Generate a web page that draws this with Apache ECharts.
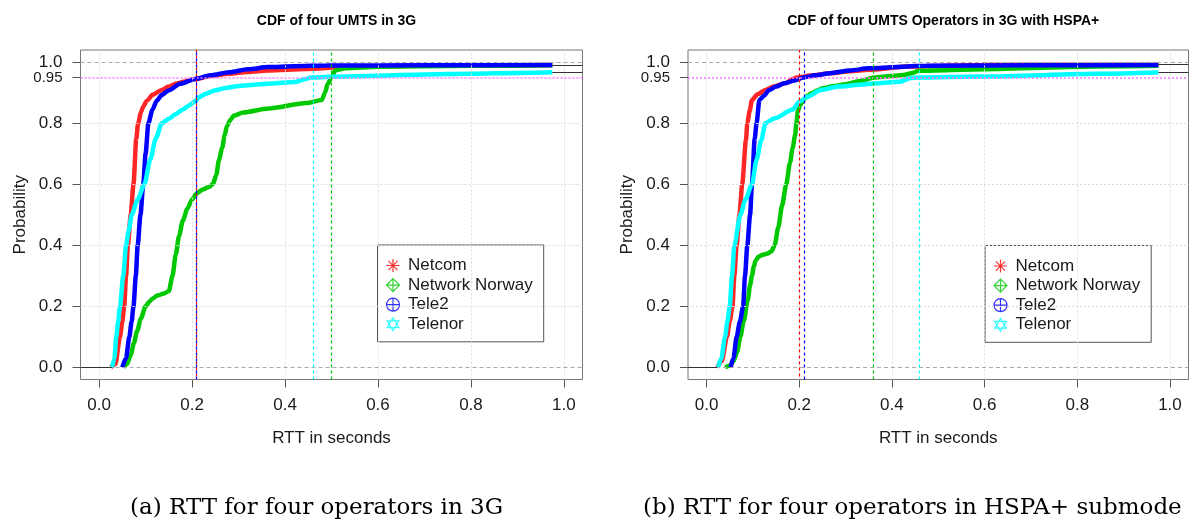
<!DOCTYPE html>
<html>
<head>
<meta charset="utf-8">
<script src="https://cdn.jsdelivr.net/npm/echarts@6/dist/echarts.min.js"></script>
<style>
html,body{margin:0;padding:0;background:#fff;}
#chart{width:1202px;height:523px;}
</style>
</head>
<body>
<div id="chart"></div>
<script>
// ---------- data ----------
const operators = ['Netcom', 'Network Norway', 'Tele2', 'Telenor'];
const xTicks = [0, 0.2, 0.4, 0.6, 0.8, 1.0];
const yTicks = [0, 0.2, 0.4, 0.6, 0.8, 1.0];
const yExtraTicks = [0.95];
const yGridValues = [0.2, 0.4, 0.6, 0.8];
const refLines = [0, 1];          // ecdf reference lines
const targetLevel = [0.95];       // 95th percentile level

// (a) 3G
const netcom3gX = [0.025, 0.035, 0.045, 0.05, 0.054, 0.058, 0.062, 0.068, 0.074, 0.08, 0.084, 0.09, 0.095, 0.103, 0.115, 0.132, 0.15, 0.165, 0.185, 0.207, 0.24, 0.28, 0.32, 0.364, 0.446, 0.53, 0.7, 0.85, 0.975];
const netcom3gY = [0, 0.01, 0.1, 0.15, 0.2, 0.3, 0.4, 0.5, 0.6, 0.75, 0.8, 0.835, 0.855, 0.874, 0.893, 0.907, 0.92, 0.929, 0.937, 0.945, 0.955, 0.962, 0.968, 0.973, 0.978, 0.984, 0.989, 0.99, 0.991];
const norway3gX = [0.052, 0.06, 0.068, 0.075, 0.082, 0.09, 0.1, 0.108, 0.115, 0.125, 0.14, 0.15, 0.158, 0.165, 0.172, 0.18, 0.19, 0.2, 0.21, 0.222, 0.235, 0.245, 0.252, 0.258, 0.265, 0.27, 0.275, 0.282, 0.29, 0.31, 0.364, 0.446, 0.479, 0.486, 0.492, 0.5, 0.508, 0.53, 0.6, 0.8, 0.975];
const norway3gY = [0, 0.01, 0.04, 0.08, 0.12, 0.16, 0.2, 0.215, 0.225, 0.235, 0.242, 0.25, 0.3, 0.37, 0.43, 0.48, 0.52, 0.55, 0.57, 0.582, 0.59, 0.6, 0.63, 0.68, 0.72, 0.76, 0.79, 0.81, 0.825, 0.835, 0.848, 0.866, 0.876, 0.9, 0.929, 0.95, 0.973, 0.98, 0.985, 0.988, 0.99];
const tele23gX = [0.05, 0.058, 0.065, 0.07, 0.074, 0.079, 0.083, 0.089, 0.095, 0.1, 0.106, 0.115, 0.124, 0.135, 0.149, 0.174, 0.207, 0.24, 0.28, 0.32, 0.364, 0.42, 0.49, 0.7, 0.975];
const tele23gY = [0, 0.03, 0.1, 0.15, 0.2, 0.3, 0.4, 0.5, 0.6, 0.7, 0.8, 0.845, 0.874, 0.893, 0.907, 0.929, 0.945, 0.957, 0.967, 0.977, 0.984, 0.987, 0.989, 0.99, 0.991];
const telenor3gX = [0.028, 0.033, 0.037, 0.041, 0.045, 0.052, 0.058, 0.064, 0.07, 0.083, 0.0975, 0.11, 0.122, 0.135, 0.15, 0.165, 0.18, 0.195, 0.205, 0.215, 0.23, 0.248, 0.27, 0.3, 0.34, 0.37, 0.42, 0.445, 0.455, 0.5, 0.6, 0.7, 0.8, 0.9, 0.975];
const telenor3gY = [0, 0.03, 0.1, 0.15, 0.2, 0.3, 0.4, 0.45, 0.5, 0.55, 0.6, 0.68, 0.75, 0.8, 0.815, 0.83, 0.845, 0.86, 0.87, 0.885, 0.897, 0.907, 0.915, 0.922, 0.927, 0.93, 0.935, 0.945, 0.95, 0.952, 0.956, 0.96, 0.962, 0.965, 0.967];
const q95_3g = [0.212, 0.498, 0.214, 0.455];
const tails3g = [[-0.04, 0, 0.028, 0], [0.975, 0.991, 1.04, 0.991], [0.975, 0.967, 1.04, 0.967]];

// (b) HSPA+
const netcomHspaX = [0.023, 0.033, 0.044, 0.05, 0.056, 0.06, 0.065, 0.071, 0.077, 0.085, 0.088, 0.093, 0.098, 0.11, 0.127, 0.145, 0.168, 0.195, 0.23, 0.267, 0.31, 0.35, 0.433, 0.6, 0.8, 0.975];
const netcomHspaY = [0, 0.02, 0.1, 0.15, 0.2, 0.3, 0.4, 0.5, 0.6, 0.744, 0.8, 0.84, 0.876, 0.895, 0.909, 0.92, 0.931, 0.95, 0.957, 0.964, 0.97, 0.975, 0.986, 0.991, 0.992, 0.992];
const norwayHspaX = [0.04, 0.05, 0.058, 0.066, 0.073, 0.08, 0.089, 0.094, 0.098, 0.102, 0.106, 0.112, 0.12, 0.13, 0.14, 0.147, 0.155, 0.163, 0.172, 0.18, 0.186, 0.191, 0.194, 0.197, 0.203, 0.209, 0.218, 0.226, 0.24, 0.251, 0.275, 0.3, 0.33, 0.3626, 0.4, 0.425, 0.445, 0.458, 0.6, 0.847, 0.975];
const norwayHspaY = [0, 0.005, 0.02, 0.05, 0.1, 0.15, 0.22, 0.27, 0.3, 0.33, 0.35, 0.362, 0.368, 0.372, 0.38, 0.4, 0.46, 0.53, 0.6, 0.67, 0.72, 0.76, 0.8, 0.84, 0.862, 0.876, 0.89, 0.898, 0.908, 0.915, 0.922, 0.928, 0.938, 0.95, 0.955, 0.958, 0.965, 0.972, 0.977, 0.986, 0.988];
const tele2HspaX = [0.052, 0.058, 0.065, 0.072, 0.079, 0.083, 0.088, 0.094, 0.098, 0.104, 0.108, 0.114, 0.124, 0.135, 0.15, 0.168, 0.19, 0.209, 0.235, 0.267, 0.31, 0.35, 0.474, 0.7, 0.975];
const tele2HspaY = [0, 0.03, 0.1, 0.15, 0.2, 0.3, 0.4, 0.5, 0.6, 0.75, 0.8, 0.876, 0.89, 0.909, 0.92, 0.931, 0.94, 0.95, 0.957, 0.964, 0.973, 0.98, 0.988, 0.99, 0.991];
const telenorHspaX = [0.025, 0.032, 0.04, 0.045, 0.05, 0.055, 0.06, 0.073, 0.084, 0.098, 0.108, 0.118, 0.127, 0.147, 0.185, 0.201, 0.218, 0.246, 0.284, 0.33, 0.367, 0.416, 0.441, 0.455, 0.6, 0.847, 0.975];
const telenorHspaY = [0, 0.03, 0.1, 0.15, 0.2, 0.3, 0.4, 0.5, 0.55, 0.6, 0.68, 0.744, 0.8, 0.816, 0.844, 0.871, 0.887, 0.909, 0.92, 0.926, 0.931, 0.936, 0.948, 0.95, 0.953, 0.962, 0.966];
const q95_hspa = [0.195, 0.3626, 0.209, 0.455];
const tailsHspa = [[-0.04, 0, 0.023, 0], [0.975, 0.992, 1.04, 0.992], [0.975, 0.966, 1.04, 0.966]];

const titles = ['CDF of four UMTS in 3G', 'CDF of four UMTS Operators in 3G with HSPA+'];
const captions = ['(a) RTT for four operators in 3G', '(b) RTT for four operators in HSPA+ submode'];
const xName = 'RTT in seconds';
const yName = 'Probability';

// ---------- style ----------
const colors = ['#ff0000', '#00c800', '#0000ff', '#00ffff'];
const dashOffsets = [3, 0, 0, 0];
const icons = [
  'path://M0,5L10,5M5,0L5,10M1.5,1.5L8.5,8.5M8.5,1.5L1.5,8.5',
  'path://M5,0L10,5L5,10L0,5ZM5,0L5,10M0,5L10,5',
  'path://M0,5A5,5 0 1,1 10,5A5,5 0 1,1 0,5ZM5,0L5,10M0,5L10,5',
  'path://M5,0L9.5,7.6L0.5,7.6ZM5,10L9.5,2.4L0.5,2.4Z'
];
const FONT = 'Liberation Sans';
const TXT = '#1a1a1a';
const panels = [
  {grid: {left: 80.5, top: 50, width: 502, height: 329.5}, xs: [netcom3gX, norway3gX, tele23gX, telenor3gX], ys: [netcom3gY, norway3gY, tele23gY, telenor3gY], q: q95_3g, tails: tails3g, legend: {left: 377.5, top: 245}, caption: {x: 130}},
  {grid: {left: 688, top: 50, width: 500.5, height: 329.5}, xs: [netcomHspaX, norwayHspaX, tele2HspaX, telenorHspaX], ys: [netcomHspaY, norwayHspaY, tele2HspaY, telenorHspaY], q: q95_hspa, tails: tailsHspa, legend: {left: 985, top: 245.5}, caption: {x: 643}}
];

function zip(xs, ys) { return xs.map((x, i) => [x, ys[i]]); }

const grids = [], xAxes = [], yAxes = [], series = [], legends = [], titleOpts = [], graphics = [];
panels.forEach((p, k) => {
  grids.push(Object.assign({show: true, borderColor: '#777', borderWidth: 1, backgroundColor: 'transparent', containLabel: false}, p.grid));
  xAxes.push({
    type: 'value', gridIndex: k, min: -0.04, max: 1.04,
    name: xName, nameLocation: 'middle', nameGap: 50,
    nameTextStyle: {fontSize: 17, color: TXT, fontFamily: FONT},
    axisLine: {show: false, onZero: false},
    axisTick: {show: true, length: 8, customValues: xTicks, lineStyle: {color: '#555'}},
    axisLabel: {customValues: xTicks, hideOverlap: false, margin: 17, fontSize: 17, color: TXT, fontFamily: FONT, formatter: v => v.toFixed(1)},
    splitLine: {show: false}
  });
  // main y axis
  yAxes.push({
    type: 'value', gridIndex: k, min: -0.04, max: 1.04, position: 'left',
    name: yName, nameLocation: 'middle', nameGap: 52, nameRotate: 90,
    nameTextStyle: {fontSize: 17, color: TXT, fontFamily: FONT},
    axisLine: {show: false, onZero: false},
    axisTick: {show: true, length: 8, customValues: yTicks, lineStyle: {color: '#555'}},
    axisLabel: {customValues: yTicks, hideOverlap: false, margin: 18, fontSize: 17, color: TXT, fontFamily: FONT, formatter: v => v.toFixed(1)},
    splitLine: {show: false}
  });
  // extra y axis for the 0.95 tick
  yAxes.push({
    type: 'value', gridIndex: k, min: -0.04, max: 1.04, position: 'left', offset: 0,
    axisLine: {show: false, onZero: false},
    axisTick: {show: true, length: 8, customValues: yExtraTicks, lineStyle: {color: '#555'}},
    axisLabel: {customValues: yExtraTicks, hideOverlap: false, margin: 18, fontSize: 15, color: TXT, fontFamily: FONT, formatter: v => v.toFixed(2)},
    splitLine: {show: false}
  });
  const yi = 2 * k;
  titleOpts.push({
    text: titles[k], left: p.grid.left + p.grid.width / 2, top: 9, textAlign: 'center',
    textStyle: {fontSize: 14, fontWeight: 'bold', color: '#000', fontFamily: FONT}
  });
  // background grid lines + ecdf tails
  series.push({
    type: 'line', xAxisIndex: k, yAxisIndex: yi, data: [], silent: true, z: 1,
    markLine: {
      silent: true, symbol: ['none', 'none'], label: {show: false}, animation: false,
      data: [].concat(
        xTicks.map(v => ({xAxis: v, lineStyle: {color: '#dcdcdc', type: [2, 2], width: 1}})),
        yGridValues.map(v => ({yAxis: v, lineStyle: {color: '#dcdcdc', type: [2, 2], width: 1}})),
        refLines.map(v => ({yAxis: v, lineStyle: {color: '#aaaaaa', type: [4, 3], width: 1}})),
        targetLevel.map(v => ({yAxis: v, lineStyle: {color: '#ff77ff', type: [2, 2], width: 1.5}})),
        p.tails.map(t => [{coord: [t[0], t[1]], lineStyle: {color: '#333333', type: 'solid', width: 1}}, {coord: [t[2], t[3]]}])
      )
    }
  });
  // data series, each with its own 95% quantile line
  operators.forEach((name, i) => {
    series.push({
      name: name, type: 'line', xAxisIndex: k, yAxisIndex: yi, z: 2,
      data: zip(p.xs[i], p.ys[i]),
      showSymbol: false, symbol: 'none', smooth: 0.25, smoothMonotone: 'x',
      color: colors[i],
      lineStyle: {color: colors[i], width: 4.5, opacity: i === 0 ? 0.85 : 1},
      itemStyle: {color: colors[i]},
      emphasis: {disabled: true},
      markLine: {
        silent: true, symbol: ['none', 'none'], label: {show: false}, animation: false,
        lineStyle: {color: colors[i], type: [3, 3], dashOffset: dashOffsets[i], width: 1.2, opacity: 1},
        data: [{xAxis: p.q[i]}]
      }
    });
  });
  legends.push({
    orient: 'vertical', left: p.legend.left, top: p.legend.top,
    padding: [11.5, 11, 8.5, 6.5], itemGap: 1.6, itemWidth: 20, itemHeight: 13,
    borderColor: '#555', borderWidth: 1, backgroundColor: '#fff',
    selectedMode: false,
    textStyle: {fontSize: 17, color: TXT, fontFamily: FONT, lineHeight: 17},
    data: operators.map((name, i) => ({
      name: name, icon: icons[i],
      itemStyle: {color: 'none', borderColor: colors[i], borderWidth: 1.2, opacity: 0.8}
    }))
  });
  graphics.push({type: 'text', x: p.caption.x, y: 508, silent: true,
    style: {text: captions[k], font: '23px "DejaVu Serif"', fill: '#000', align: 'left', verticalAlign: 'middle'}});
});

const chart = echarts.init(document.getElementById('chart'), null, {renderer: 'canvas'});
chart.setOption({
  animation: false,
  backgroundColor: '#fff',
  textStyle: {fontFamily: FONT},
  title: titleOpts,
  grid: grids,
  xAxis: xAxes,
  yAxis: yAxes,
  legend: legends,
  series: series,
  graphic: graphics
});
</script>
</body>
</html>
